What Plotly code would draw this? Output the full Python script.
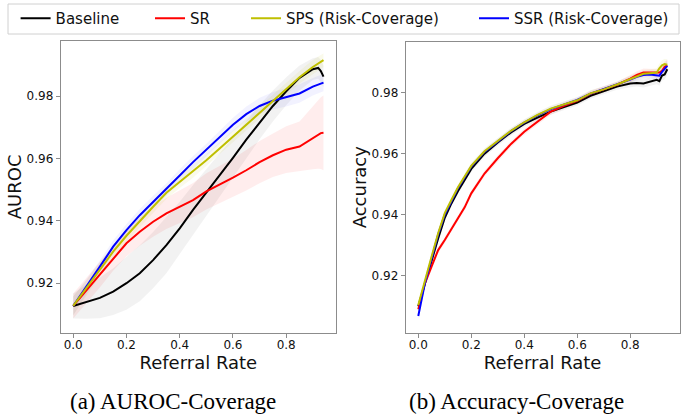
import plotly.graph_objects as go

W, H = 681, 414

# ---------------- Panel (a): AUROC vs referral rate ----------------
auroc_rate = [0, 0.05, 0.10, 0.15, 0.20, 0.25, 0.30, 0.35, 0.40, 0.45, 0.50,
              0.55, 0.60, 0.65, 0.70, 0.75, 0.80, 0.85, 0.90, 0.92, 0.93, 0.94]
auroc_baseline = [0.9127, 0.9141, 0.9153, 0.9173, 0.9200, 0.9232, 0.9274, 0.9322, 0.9376, 0.9435, 0.9490,
                  0.9548, 0.9602, 0.9660, 0.9716, 0.9768, 0.9815, 0.9858, 0.9886, 0.9890, 0.9880, 0.9862]
auroc_baseline_sd = [0.004, 0.0055, 0.0065, 0.0075, 0.0085, 0.009, 0.009, 0.009, 0.0085, 0.008, 0.0075,
                     0.007, 0.0065, 0.006, 0.0055, 0.005, 0.0045, 0.004, 0.0035, 0.0035, 0.0035, 0.0035]
auroc_sr = [0.9127, 0.9178, 0.9226, 0.9280, 0.9328, 0.9365, 0.9397, 0.9424, 0.9445, 0.9466, 0.9494,
            0.9515, 0.9538, 0.9562, 0.9588, 0.9610, 0.9628, 0.9638, 0.9665, 0.9677, 0.9681, 0.9682]
auroc_sr_sd = [0.004, 0.004, 0.004, 0.004, 0.0042, 0.0045, 0.0048, 0.005, 0.0052, 0.0055, 0.0058,
               0.006, 0.0062, 0.0065, 0.0068, 0.007, 0.0075, 0.008, 0.010, 0.011, 0.0115, 0.012]
auroc_sps = [0.9127, 0.9185, 0.9245, 0.9301, 0.9352, 0.9400, 0.9445, 0.9490, 0.9525, 0.9558, 0.9594,
             0.9632, 0.9670, 0.9708, 0.9747, 0.9786, 0.9824, 0.9860, 0.9893, 0.9903, 0.9909, 0.9915]
auroc_sps_sd = [0.003, 0.0025, 0.0022, 0.002, 0.002, 0.002, 0.002, 0.002, 0.002, 0.002, 0.002,
                0.002, 0.002, 0.002, 0.002, 0.002, 0.002, 0.002, 0.0022, 0.0022, 0.0022, 0.0022]
auroc_ssr = [0.9127, 0.9188, 0.9253, 0.9317, 0.9370, 0.9418, 0.9460, 0.9500, 0.9545, 0.9588, 0.9627,
             0.9668, 0.9708, 0.9742, 0.9768, 0.9785, 0.9796, 0.9808, 0.9830, 0.9837, 0.9840, 0.9843]
auroc_ssr_sd = [0.003, 0.0025, 0.002, 0.002, 0.002, 0.002, 0.002, 0.002, 0.002, 0.002, 0.002,
                0.002, 0.0022, 0.0024, 0.0026, 0.0028, 0.003, 0.003, 0.0028, 0.0028, 0.0028, 0.0028]

# ---------------- Panel (b): Accuracy vs referral rate ----------------
acc_rate = [0, 0.0125, 0.025, 0.05, 0.075, 0.10, 0.125, 0.15, 0.175, 0.20, 0.25, 0.30, 0.35, 0.40, 0.45,
            0.50, 0.55, 0.60, 0.65, 0.70, 0.75, 0.80, 0.825, 0.85, 0.875, 0.90, 0.91, 0.92, 0.93, 0.94]
acc_baseline = [0.9100, 0.9138, 0.9178, 0.9250, 0.9322, 0.9390, 0.9437, 0.9478, 0.9514, 0.9550, 0.9600, 0.9637, 0.9670, 0.9698, 0.9718,
                0.9738, 0.9753, 0.9768, 0.9790, 0.9806, 0.9820, 0.9830, 0.9832, 0.9830, 0.9836, 0.9842, 0.9838, 0.9856, 0.9860, 0.9877]
acc_sr = [0.9090, 0.9135, 0.9175, 0.9230, 0.9284, 0.9317, 0.9352, 0.9390, 0.9424, 0.9470, 0.9535, 0.9585, 0.9632, 0.9672, 0.9705,
          0.9738, 0.9757, 0.9773, 0.9796, 0.9810, 0.9826, 0.9846, 0.9858, 0.9866, 0.9866, 0.9864, 0.9866, 0.9872, 0.9885, 0.9890]
acc_sps = [0.9104, 0.9145, 0.9186, 0.9262, 0.9339, 0.9405, 0.9448, 0.9490, 0.9525, 0.9560, 0.9608, 0.9643, 0.9675, 0.9703, 0.9727,
           0.9748, 0.9761, 0.9775, 0.9798, 0.9811, 0.9827, 0.9845, 0.9855, 0.9862, 0.9864, 0.9866, 0.9880, 0.9890, 0.9894, 0.9892]
acc_ssr = [0.9068, 0.9120, 0.9175, 0.9255, 0.9335, 0.9400, 0.9445, 0.9487, 0.9522, 0.9558, 0.9606, 0.9641, 0.9674, 0.9702, 0.9726,
           0.9746, 0.9762, 0.9776, 0.9797, 0.9812, 0.9826, 0.9843, 0.9852, 0.9858, 0.9860, 0.9858, 0.9856, 0.9868, 0.9878, 0.9888]
acc_sd = [0.0012, 0.0012, 0.0012, 0.0011, 0.0011, 0.001, 0.001, 0.001, 0.001, 0.001, 0.001, 0.001, 0.001, 0.001, 0.001,
          0.001, 0.001, 0.001, 0.001, 0.001, 0.001, 0.0012, 0.0012, 0.0013, 0.0013, 0.0014, 0.0015, 0.0016, 0.0017, 0.0018]

series_names = ["Baseline", "SR", "SPS (Risk-Coverage)", "SSR (Risk-Coverage)"]
series_colors = ["#000000", "#ff0000", "#bfbf00", "#0000ff"]
band_colors = ["rgba(0,0,0,0.05)", "rgba(255,0,0,0.07)", "rgba(191,191,0,0.08)", "rgba(0,0,255,0.05)"]
tick_x = [0.0, 0.2, 0.4, 0.6, 0.8]
tick_y = [0.92, 0.94, 0.96, 0.98]

left_data = [(auroc_baseline, auroc_baseline_sd), (auroc_sr, auroc_sr_sd),
             (auroc_sps, auroc_sps_sd), (auroc_ssr, auroc_ssr_sd)]
right_data = [(acc_baseline, acc_sd), (acc_sr, acc_sd), (acc_sps, acc_sd), (acc_ssr, acc_sd)]

FONT = "DejaVu Sans"
fig = go.Figure()

draw_order = [0, 1, 3, 2]
legend_ids = ["legend", "legend2", "legend3", "legend4"]

for panel, (xs, data, xa, ya) in enumerate([(auroc_rate, left_data, "x", "y"),
                                             (acc_rate, right_data, "x2", "y2")]):
    for i in draw_order:
        m, sd = data[i]
        up = [a + b for a, b in zip(m, sd)]
        lo = [a - b for a, b in zip(m, sd)]
        fig.add_trace(go.Scatter(x=xs + xs[::-1], y=up + lo[::-1], fill="toself",
                                 fillcolor=band_colors[i], line=dict(width=0),
                                 mode="lines", hoverinfo="skip", showlegend=False,
                                 xaxis=xa, yaxis=ya))
    for i in draw_order:
        m, sd = data[i]
        fig.add_trace(go.Scatter(x=xs, y=m, mode="lines", name=series_names[i],
                                 line=dict(color=series_colors[i], width=2),
                                 showlegend=(panel == 0), legend=legend_ids[i],
                                 xaxis=xa, yaxis=ya))

def px_x(p):
    return p / W

def px_y(p):
    return 1 - p / H

axis_common = dict(showline=True, mirror=True, linecolor="#8c8c8c", linewidth=1,
                   ticks="outside", ticklen=4, tickcolor="#8c8c8c", showgrid=False,
                   zeroline=False, tickfont=dict(family=FONT, size=12, color="#111111"))
title_font = dict(family=FONT, size=18, color="#111111")

fig.update_layout(
    width=W, height=H, margin=dict(l=0, r=0, t=0, b=0),
    paper_bgcolor="white", plot_bgcolor="white",
    xaxis=dict(domain=[px_x(60.7), px_x(336)], range=[-0.047, 0.987], anchor="y",
               tickvals=tick_x, ticktext=["%.1f" % v for v in tick_x], ticklabelstandoff=-3,
               title=dict(text="Referral Rate", font=title_font, standoff=0),
               **axis_common),
    yaxis=dict(domain=[px_y(332.7), px_y(41)], range=[0.90413, 0.99763], anchor="x",
               tickvals=tick_y, ticktext=["%.2f" % v for v in tick_y],
               title=dict(text="AUROC", font=title_font, standoff=0),
               **axis_common),
    xaxis2=dict(domain=[px_x(405.7), px_x(679.5)], range=[-0.0475, 0.986], anchor="y2",
                tickvals=tick_x, ticktext=["%.1f" % v for v in tick_x], ticklabelstandoff=-3,
                title=dict(text="Referral Rate", font=title_font, standoff=0),
                **axis_common),
    yaxis2=dict(domain=[px_y(332.7), px_y(41.7)], range=[0.90131, 0.99672], anchor="x2",
                tickvals=tick_y, ticktext=["%.2f" % v for v in tick_y],
                title=dict(text="Accuracy", font=title_font, standoff=0),
                **axis_common),
)

# one legend per entry so each can sit where the reference puts it
text_starts = [58.6, 193, 289, 517]
for lid, ts in zip(legend_ids, text_starts):
    fig.update_layout(**{lid: dict(x=px_x(ts - 43), xanchor="left", y=px_y(18.5), yanchor="middle",
                                   orientation="h", bgcolor="rgba(0,0,0,0)", borderwidth=0,
                                   font=dict(family=FONT, size=15, color="#111111"))})

# legend frame
fig.add_shape(type="rect", xref="paper", yref="paper", x0=px_x(8), x1=px_x(679), y0=px_y(34), y1=px_y(4),
              line=dict(color="#d0d0d0", width=1), fillcolor="rgba(0,0,0,0)", layer="below")

# captions
for txt, cx in [("(a) AUROC-Coverage", 172.5), ("(b) Accuracy-Coverage", 516.7)]:
    fig.add_annotation(text=txt, x=px_x(cx), y=px_y(401), xref="paper", yref="paper",
                       xanchor="center", yanchor="middle", showarrow=False,
                       font=dict(family="Liberation Serif", size=23, color="black"))

fig.write_html("out.html")
